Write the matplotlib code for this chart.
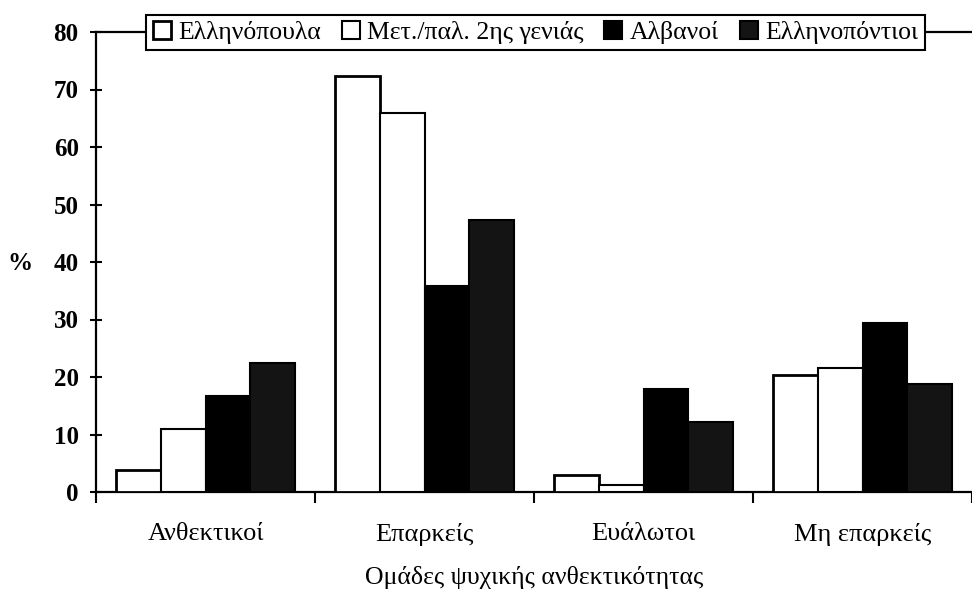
import numpy as np
import matplotlib.pyplot as plt

plt.rcParams['font.family'] = ['Liberation Serif', 'DejaVu Serif']

categories = ['Ανθεκτικοί', 'Επαρκείς', 'Ευάλωτοι', 'Μη επαρκείς']
series = ['Ελληνόπουλα', 'Μετ./παλ. 2ης γενιάς', 'Αλβανοί', 'Ελληνοπόντιοι']
greek_kids = [3.8, 72.3, 2.9, 20.3]
migrants_2nd = [11.0, 66.0, 1.2, 21.6]
albanians = [16.7, 35.9, 18.0, 29.4]
pontic = [22.4, 47.3, 12.1, 18.7]
yticks = [0, 10, 20, 30, 40, 50, 60, 70, 80]

values = [greek_kids, migrants_2nd, albanians, pontic]
faces = ['white', 'white', 'black', '#141414']
edge_w = [2.0, 1.5, 1.5, 1.5]

W, H = 972, 597
fig = plt.figure(figsize=(W / 100, H / 100), dpi=100)
ax = fig.add_axes([96 / W, 105 / H, (W - 96) / W, 460 / H])

x = np.arange(len(categories))
bw = 0.205
for i, (vals, fc, lw) in enumerate(zip(values, faces, edge_w)):
    ax.bar(x + (i - 1.5) * bw, vals, bw, color=fc, edgecolor='black',
           linewidth=lw, label=series[i], zorder=3)

ax.set_xlim(-0.5, -0.5 + (W - 96) / 219.7)
ax.set_ylim(0, 80)

for s in ['left', 'bottom', 'top']:
    ax.spines[s].set_linewidth(1.6)
ax.spines['right'].set_visible(False)

ax.set_yticks(yticks)
ax.set_yticklabels([str(t) for t in yticks], fontsize=18, fontweight='bold')
ax.tick_params(axis='y', direction='inout', length=9, width=1.5, pad=8)

# group boundaries get the tick marks, the names sit in between
ax.set_xticks(np.arange(-0.5, 3.6, 1.0))
ax.set_xticklabels([])
ax.tick_params(axis='x', which='major', direction='out', length=8, width=1.5)
ax.set_xticks(x, minor=True)
ax.set_xticklabels(categories, minor=True, fontsize=19)
ax.tick_params(axis='x', which='minor', length=0, pad=22)

ax.set_xlabel('Ομάδες ψυχικής ανθεκτικότητας', fontsize=18.5, labelpad=15)
fig.text(20 / W, 1 - 263 / H, '%', fontsize=18, fontweight='bold',
         ha='center', va='center')

leg = ax.legend(loc='center', bbox_to_anchor=(535.5 / W, 1 - 32.5 / H),
                bbox_transform=fig.transFigure, ncol=4, fontsize=18.5,
                frameon=True, fancybox=False, framealpha=1, edgecolor='black',
                handlelength=0.7, handleheight=0.7, handletextpad=0.3,
                columnspacing=0.8, borderpad=0.25, borderaxespad=0)
leg.get_frame().set_linewidth(1.5)

fig.savefig('out.png', dpi=100)
